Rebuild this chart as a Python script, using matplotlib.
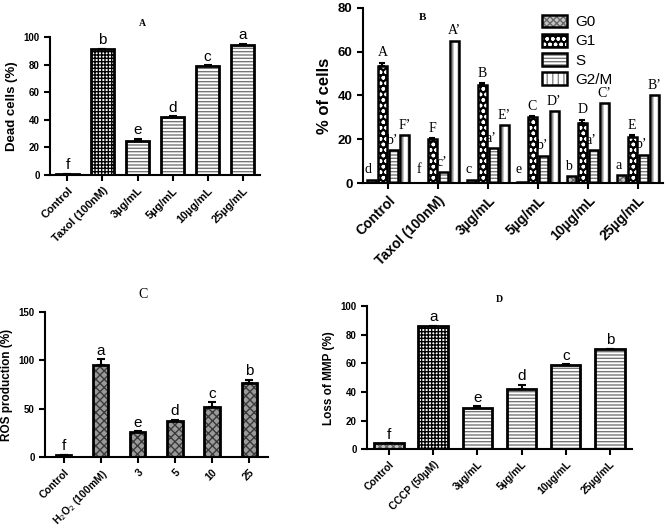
import matplotlib
matplotlib.use("Agg")
import matplotlib.pyplot as plt
from matplotlib.patches import Patch
from matplotlib.legend_handler import HandlerTuple
import numpy as np

# Panel A - dead cells
A_CATS = ["Control", "Taxol (100nM)", "3µg/mL", "5µg/mL", "10µg/mL", "25µg/mL"]
A_VALS = [0.6, 91, 25, 42, 79, 94]
A_ERRS = [0.3, 0.5, 1.5, 0.8, 0.6, 1.2]
A_LETTERS = ["f", "b", "e", "d", "c", "a"]

# Panel B - cell cycle phases
B_CATS = ["Control", "Taxol (100nM)", "3µg/mL", "5µg/mL", "10µg/mL", "25µg/mL"]
B_PHASES = ["G0", "G1", "S", "G2/M"]
B_G0 = [1.5, 0.0, 1.5, 0.3, 3.0, 3.5]
B_G1 = [53.5, 20, 45, 30, 27.5, 21]
B_S = [15, 5, 16, 12.5, 15, 13]
B_G2M = [22, 65, 26.5, 33, 36.5, 40]
B_G1_ERR = [1.5, 0.5, 0.5, 0.5, 1.5, 1.0]
B_LET_G0 = ["d", "f", "c", "e", "b", "a"]
B_LET_G1 = ["A", "F", "B", "C", "D", "E"]
B_LET_S = ["b’", "c’", "a’", "b’", "a’", "b’"]
B_LET_G2M = ["F’", "A’", "E’", "D’", "C’", "B’"]

# Panel C - ROS production
C_CATS = ["Control", "H$_2$O$_2$ (100mM)", "3", "5", "10", "25"]
C_VALS = [2, 95, 26, 37, 52, 77]
C_ERRS = [0.5, 6, 1, 1.5, 5, 3]
C_LETTERS = ["f", "a", "e", "d", "c", "b"]

# Panel D - loss of MMP
D_CATS = ["Control", "CCCP (50µM)", "3µg/mL", "5µg/mL", "10µg/mL", "25µg/mL"]
D_VALS = [4, 86, 29, 42, 59, 70]
D_ERRS = [0.3, 0.4, 1.0, 3.0, 0.6, 0.4]
D_LETTERS = ["f", "a", "e", "d", "c", "b"]

SANS = ["Liberation Sans", "DejaVu Sans"]
SERIF = ["Liberation Serif", "DejaVu Serif"]

plt.rcParams["font.family"] = SANS
plt.rcParams["hatch.linewidth"] = 1.0

STYLE_DOTS = dict(face="#c4c4c4", hatch="xxxxx", hcol="#666666")
STYLE_CHECK = dict(face="white", hatch="+++++", hcol="black")
STYLE_HLINE = dict(face="white", hatch="-----", hcol="#777777")
STYLE_VLINE = dict(face="white", hatch="|||", hcol="#888888")
STYLE_G1 = dict(face="black", hatch="ooo", hcol="white")


def hatched_bars(ax, x, vals, width, style, lw=2.0):
    # fill + hatch first, then a clean black outline on top
    ax.bar(x, vals, width, color=style["face"], hatch=style["hatch"],
           edgecolor=style["hcol"], linewidth=0, zorder=2)
    ax.bar(x, vals, width, color="none", edgecolor="black",
           linewidth=lw, zorder=3)


def upper_err(ax, x, vals, errs, cap=3, lw=1.5):
    errs = np.asarray(errs)
    ax.errorbar(x, vals, yerr=[np.zeros_like(errs), errs], fmt="none",
                ecolor="black", elinewidth=lw, capsize=cap, capthick=lw,
                zorder=4)


def style_axis(ax, ylim, yticks, cats, tick_fs=7, lab_fs=7.5):
    for side in ("top", "right"):
        ax.spines[side].set_visible(False)
    for side in ("left", "bottom"):
        ax.spines[side].set_linewidth(1.5)
    ax.set_ylim(*ylim)
    ax.set_yticks(yticks)
    ax.set_xlim(-0.5, len(cats) - 0.5)
    ax.set_xticks(np.arange(len(cats)))
    ax.set_xticklabels(cats, rotation=45, ha="right",
                       rotation_mode="anchor", fontsize=lab_fs,
                       fontweight="bold")
    ax.tick_params(axis="both", width=1.5, length=4, direction="out")
    ax.tick_params(axis="y", labelsize=tick_fs)
    for t in ax.get_yticklabels():
        t.set_fontweight("bold")


def letters(ax, x, tops, labels, pad, fs=11, family=SANS):
    for xi, top, lab in zip(x, tops, labels):
        ax.text(xi, top + pad, lab, ha="center", va="bottom",
                fontsize=fs, family=family, zorder=6)


def main():
    fig = plt.figure(figsize=(6.69, 5.29), dpi=100)

    # ---- A ----
    axA = fig.add_axes([0.0747, 0.669, 0.314, 0.261])
    x = np.arange(len(A_CATS))
    w = 0.66
    hatched_bars(axA, x[:1], A_VALS[:1], w, STYLE_DOTS)
    hatched_bars(axA, x[1:2], A_VALS[1:2], w, STYLE_CHECK)
    hatched_bars(axA, x[2:], A_VALS[2:], w, STYLE_HLINE)
    upper_err(axA, x, A_VALS, A_ERRS)
    style_axis(axA, (0, 100), range(0, 101, 20), A_CATS, lab_fs=8)
    letters(axA, x, np.array(A_VALS) + np.array(A_ERRS), A_LETTERS, 1)
    axA.set_ylabel("Dead cells (%)", fontsize=9.5, fontweight="bold")
    axA.text(0.44, 1.08, "A", transform=axA.transAxes, ha="center",
             family=SERIF, fontweight="bold", fontsize=7)

    # ---- B ----
    axB = fig.add_axes([0.5426, 0.654, 0.448, 0.331])
    x = np.arange(len(B_CATS))
    bw = 0.18
    offs = [-0.33, -0.11, 0.11, 0.33]
    series = [B_G0, B_G1, B_S, B_G2M]
    styles = [STYLE_DOTS, STYLE_G1, STYLE_HLINE, STYLE_VLINE]
    for vals, st, off in zip(series, styles, offs):
        hatched_bars(axB, x + off, vals, bw, st, lw=1.8)
    upper_err(axB, x + offs[1], B_G1, B_G1_ERR, cap=2)
    style_axis(axB, (0, 80), range(0, 81, 20), B_CATS, tick_fs=9.5,
               lab_fs=10)
    all_lets = [B_LET_G0, B_LET_G1, B_LET_S, B_LET_G2M]
    shifts = [-0.06, 0.0, -0.04, 0.0]
    for vals, lets, off, sh in zip(series, all_lets, offs, shifts):
        tops = np.array(vals) + (np.array(B_G1_ERR) if vals is B_G1 else 0)
        letters(axB, x + off + sh, np.maximum(tops, 1.5), lets, 1.5,
                fs=10, family=SERIF)
    axB.set_ylabel("% of cells", fontsize=12, fontweight="bold")
    axB.text(0.2, 0.93, "B", transform=axB.transAxes, ha="center",
             family=SERIF, fontweight="bold", fontsize=8)
    # legend swatches: hatched fill with its own colour + black outline
    handles = [(Patch(facecolor=st["face"], hatch=st["hatch"],
                      edgecolor=st["hcol"], linewidth=0),
                Patch(facecolor="none", edgecolor="black", linewidth=1.8))
               for st in styles]
    axB.legend(handles, B_PHASES, loc="upper right",
               bbox_to_anchor=(0.88, 1.04), frameon=False,
               fontsize=11, handlelength=1.6, handleheight=0.9,
               labelspacing=0.3, handletextpad=0.6,
               handler_map={tuple: HandlerTuple(ndivide=1, pad=0)})

    # ---- C ----
    axC = fig.add_axes([0.0673, 0.136, 0.333, 0.274])
    x = np.arange(len(C_CATS))
    hatched_bars(axC, x, C_VALS, 0.41, dict(face="#9a9a9a", hatch="xxxx",
                                           hcol="#3a3a3a"))
    upper_err(axC, x, C_VALS, C_ERRS)
    style_axis(axC, (0, 150), [0, 50, 100, 150], C_CATS)
    letters(axC, x, np.array(C_VALS) + np.array(C_ERRS), C_LETTERS, 1.5)
    axC.set_ylabel("ROS production (%)", fontsize=8.5, fontweight="bold")
    axC.text(0.44, 1.1, "C", transform=axC.transAxes, ha="center",
             family=SERIF, fontsize=10)

    # ---- D ----
    axD = fig.add_axes([0.5486, 0.151, 0.396, 0.270])
    x = np.arange(len(D_CATS))
    w = 0.67
    hatched_bars(axD, x[:1], D_VALS[:1], w, STYLE_DOTS)
    hatched_bars(axD, x[1:2], D_VALS[1:2], w, STYLE_CHECK)
    hatched_bars(axD, x[2:], D_VALS[2:], w, STYLE_HLINE)
    upper_err(axD, x, D_VALS, D_ERRS)
    style_axis(axD, (0, 100), range(0, 101, 20), D_CATS)
    letters(axD, x, np.array(D_VALS) + np.array(D_ERRS), D_LETTERS, 1)
    axD.set_ylabel("Loss of MMP (%)", fontsize=8.5, fontweight="bold")
    axD.text(0.5, 1.03, "D", transform=axD.transAxes, ha="center",
             family=SERIF, fontweight="bold", fontsize=7)

    fig.savefig("out.png", dpi=100)
    plt.close(fig)


if __name__ == "__main__":
    main()
